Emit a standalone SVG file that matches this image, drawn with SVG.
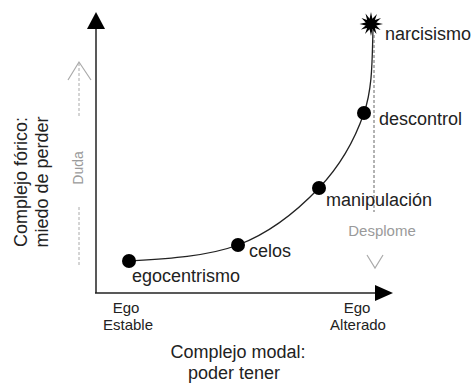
<svg xmlns="http://www.w3.org/2000/svg" width="473" height="385" viewBox="0 0 473 385">
<style>
.lbl{font-family:"Liberation Sans",Arial,sans-serif;font-size:18px;fill:#222}
.ax{font-family:"Liberation Sans",Arial,sans-serif;font-size:15px;fill:#222;text-anchor:middle}
.gray{font-family:"Liberation Sans",Arial,sans-serif;font-size:15px;fill:#9a9a9a;text-anchor:middle}
.axis{stroke:#222;stroke-width:1.5;fill:none}
.dash{stroke:#aaa;stroke-width:1;stroke-dasharray:3 2;fill:none}
.dot{fill:#000}
</style>
<rect width="473" height="385" fill="#fff"/>
<g id="axes">
<line class="axis" x1="96" y1="293" x2="96" y2="28"/>
<polygon points="96,12 87,29 105,29" fill="#000"/>
<line class="axis" x1="95" y1="293" x2="376" y2="293"/>
<polygon points="393,293 375,285 375,301" fill="#000"/>
</g>
<g id="connectors">
<path d="M129,261 C162,259 206,257 238,245 C270,233 298,210 319,188 C340,166 355,139 364,113 C373,87 372,57 373,30" stroke="#222" stroke-width="1.3" fill="none"/>
<line x1="374" y1="35" x2="374" y2="212" stroke="#666" stroke-width="1" stroke-dasharray="3 2"/>
<polyline points="367,255 375,268 383,255" stroke="#aaa" stroke-width="1.2" fill="none"/>
<line class="dash" x1="79" y1="63" x2="79" y2="117"/>
<polyline points="68,80 79,62 91,80" stroke="#aaa" stroke-width="1.2" fill="none"/>
<line class="dash" x1="79" y1="207" x2="79" y2="265"/>
</g>
<g id="egocentrismo">
<circle class="dot" cx="129" cy="261" r="7"/>
<text class="lbl" x="132" y="282">egocentrismo</text>
</g>
<g id="celos">
<circle class="dot" cx="238" cy="245" r="7"/>
<text class="lbl" x="249" y="257">celos</text>
</g>
<g id="manipulacion">
<circle class="dot" cx="319" cy="188" r="7"/>
<text class="lbl" x="326" y="206">manipulación</text>
</g>
<g id="descontrol">
<circle class="dot" cx="364" cy="113" r="7"/>
<text class="lbl" x="379" y="125">descontrol</text>
</g>
<g id="narcisismo">
<polygon fill="#000" points="383,24 376.3,25.4 380.5,30 374.9,27.9 376.5,34 372.4,29.3 371,36 369.6,29.3 365,34 367.1,27.9 361,29.5 365.7,25.4 359.5,24 365.7,22.6 361.5,18 367.1,20.1 365.5,13.5 369.6,18.7 371,12 372.4,18.7 377,14 374.9,20.1 381,18 376.3,22.6"/>
<text class="lbl" x="385" y="40">narcisismo</text>
</g>
<g id="labels">
<text class="ax" x="126" y="313">Ego</text>
<text class="ax" x="128" y="330">Estable</text>
<text class="ax" x="357" y="313">Ego</text>
<text class="ax" x="358" y="330">Alterado</text>
<text class="lbl" x="238" y="358" text-anchor="middle">Complejo modal:</text>
<text class="lbl" x="234" y="379" text-anchor="middle">poder tener</text>
<text class="lbl" transform="translate(27,182) rotate(-90)" text-anchor="middle">Complejo fórico:</text>
<text class="lbl" transform="translate(48,182) rotate(-90)" text-anchor="middle">miedo de perder</text>
<text class="gray" transform="translate(83,168) rotate(-90)" style="font-size:14px">Duda</text>
<text class="gray" x="382" y="236">Desplome</text>
</g>
</svg>
